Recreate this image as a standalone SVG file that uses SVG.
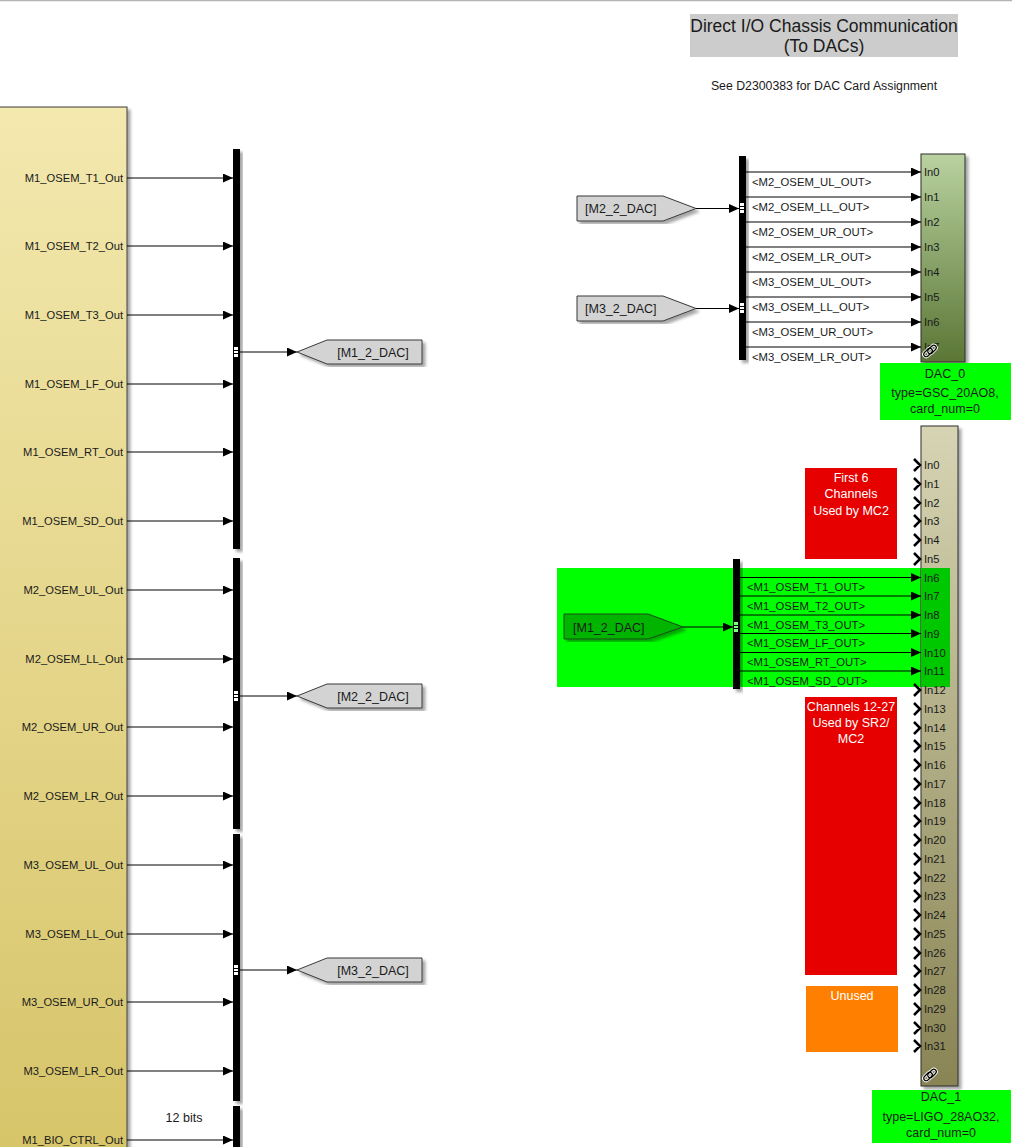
<svg xmlns="http://www.w3.org/2000/svg" width="1012" height="1147" viewBox="0 0 1012 1147">
<style>
text{font-family:"Liberation Sans",Arial,sans-serif;fill:#1a1a1a}
.pl{font-size:11.2px;text-anchor:end}
.il{font-size:11.2px}
.bl{font-size:11.3px}
.tg{font-size:12.5px}
.tag{fill:#d3d3d3;stroke:#3a3a3a;stroke-width:1}
.bar{fill:#000}
.ln{stroke:#000;stroke-width:1;fill:none}
.chev{stroke:#000;stroke-width:2.5;fill:none}
.note{font-size:12.5px;fill:#fff;text-anchor:middle}
.lab{font-size:12.5px;text-anchor:middle}
</style>
<defs>
<marker id="arr" markerWidth="10" markerHeight="9" refX="10" refY="4.5" orient="auto" markerUnits="userSpaceOnUse"><path d="M0,0 L10,4.5 L0,9 z" fill="#000"/></marker>
<linearGradient id="gL" x1="0" y1="107" x2="0" y2="1147" gradientUnits="userSpaceOnUse"><stop offset="0" stop-color="#f3e8ae"/><stop offset="1" stop-color="#d7c56a"/></linearGradient>
<linearGradient id="g0" x1="0" y1="0" x2="0" y2="1"><stop offset="0" stop-color="#b9d2a0"/><stop offset="1" stop-color="#5b7635"/></linearGradient>
<linearGradient id="g1" x1="0" y1="0" x2="0" y2="1"><stop offset="0" stop-color="#d6d4b3"/><stop offset="1" stop-color="#898454"/></linearGradient>
<filter id="sh" x="-20%" y="-5%" width="150%" height="115%"><feDropShadow dx="3" dy="3" stdDeviation="1.5" flood-color="#000" flood-opacity="0.35"/></filter>
<g id="link"><rect x="1" y="6" width="10" height="5" rx="2.5" transform="rotate(-45 6 8.5)" fill="none" stroke="#fff" stroke-width="3"/><rect x="5" y="3" width="10" height="5" rx="2.5" transform="rotate(-45 10 5.5)" fill="none" stroke="#fff" stroke-width="3"/><rect x="1" y="6" width="10" height="5" rx="2.5" transform="rotate(-45 6 8.5)" fill="none" stroke="#000" stroke-width="1.2"/><rect x="5" y="3" width="10" height="5" rx="2.5" transform="rotate(-45 10 5.5)" fill="none" stroke="#000" stroke-width="1.2"/></g>
</defs>
<rect x="0" y="0" width="1012" height="1147" fill="#fff"/>
<line x1="0" y1="0.5" x2="1012" y2="0.5" stroke="#b4b4b4" stroke-width="1.5"/>

<!-- areas / annotations -->
<g id="title">
<rect x="690" y="14" width="268" height="43" fill="#cccccc"/>
<text x="824" y="32" font-size="17.5" text-anchor="middle">Direct I/O Chassis Communication</text>
<text x="824" y="52" font-size="17.5" text-anchor="middle">(To DACs)</text>
<text x="824" y="90" font-size="12.3" text-anchor="middle">See D2300383 for DAC Card Assignment</text>
</g>
<g id="area_m1">
<rect x="557" y="568" width="393" height="119" fill="#00ff00"/>
</g>
<g id="note_first6">
<rect x="805" y="468" width="92" height="91" fill="#e60000"/>
<text class="note" x="851" y="482">First 6</text>
<text class="note" x="851" y="498">Channels</text>
<text class="note" x="851" y="515">Used by MC2</text>
</g>
<g id="note_ch12_27">
<rect x="805" y="697" width="92" height="278" fill="#e60000"/>
<text class="note" x="851" y="711">Channels 12-27</text>
<text class="note" x="851" y="727">Used by SR2/</text>
<text class="note" x="851" y="743">MC2</text>
</g>
<g id="note_unused">
<rect x="806" y="986" width="92" height="66" fill="#ff8000"/>
<text class="note" x="852" y="1000">Unused</text>
</g>

<!-- left subsystem block -->
<g id="sus_block">
<rect x="-10" y="107" width="137" height="1060" fill="url(#gL)" stroke="#3c3c3c" stroke-width="1" filter="url(#sh)"/>
<text class="pl" x="123" y="182">M1_OSEM_T1_Out</text>
<text class="pl" x="123" y="250">M1_OSEM_T2_Out</text>
<text class="pl" x="123" y="319">M1_OSEM_T3_Out</text>
<text class="pl" x="123" y="388">M1_OSEM_LF_Out</text>
<text class="pl" x="123" y="456">M1_OSEM_RT_Out</text>
<text class="pl" x="123" y="525">M1_OSEM_SD_Out</text>
<text class="pl" x="123" y="594">M2_OSEM_UL_Out</text>
<text class="pl" x="123" y="663">M2_OSEM_LL_Out</text>
<text class="pl" x="123" y="731">M2_OSEM_UR_Out</text>
<text class="pl" x="123" y="800">M2_OSEM_LR_Out</text>
<text class="pl" x="123" y="869">M3_OSEM_UL_Out</text>
<text class="pl" x="123" y="938">M3_OSEM_LL_Out</text>
<text class="pl" x="123" y="1006">M3_OSEM_UR_Out</text>
<text class="pl" x="123" y="1075">M3_OSEM_LR_Out</text>
<text class="pl" x="123" y="1144">M1_BIO_CTRL_Out</text>
</g>

<!-- left bus creators -->
<g id="bus_m1" filter="url(#sh)">
<rect class="bar" x="233" y="149" width="7" height="400"/>
</g>
<g id="bus_m2" filter="url(#sh)">
<rect class="bar" x="233" y="558" width="7" height="271"/>
</g>
<g id="bus_m3" filter="url(#sh)">
<rect class="bar" x="233" y="834" width="7" height="267"/>
</g>
<g id="bus_bio" filter="url(#sh)">
<rect class="bar" x="233" y="1106" width="7" height="50"/>
</g>
<g id="busmarks_left" fill="#fff">
<rect x="234" y="347" width="4" height="10"/><rect x="234" y="691" width="4" height="10"/><rect x="234" y="965" width="4" height="10"/>
<path d="M234,350.5h4M234,353.5h4M234,694.5h4M234,697.5h4M234,968.5h4M234,971.5h4" stroke="#000" stroke-width="1"/>
</g>
<text x="184" y="1122" font-size="12.5" text-anchor="middle">12 bits</text>

<!-- goto tags -->
<g id="goto_m1">
<polygon class="tag" points="297,352 327,340 422,340 422,364 327,364" filter="url(#sh)"/>
<text class="tg" x="373" y="356.5" text-anchor="middle">[M1_2_DAC]</text>
</g>
<g id="goto_m2">
<polygon class="tag" points="297,696 327,684 422,684 422,708 327,708" filter="url(#sh)"/>
<text class="tg" x="373" y="700.5" text-anchor="middle">[M2_2_DAC]</text>
</g>
<g id="goto_m3">
<polygon class="tag" points="297,970 327,958 422,958 422,982 327,982" filter="url(#sh)"/>
<text class="tg" x="373" y="974.5" text-anchor="middle">[M3_2_DAC]</text>
</g>

<!-- from tags -->
<g id="from_m2">
<polygon class="tag" points="577,196 663,196 696,208.5 663,221 577,221" filter="url(#sh)"/>
<text class="tg" x="585" y="213">[M2_2_DAC]</text>
</g>
<g id="from_m3">
<polygon class="tag" points="577,296 663,296 696,308.5 663,321 577,321" filter="url(#sh)"/>
<text class="tg" x="585" y="313">[M3_2_DAC]</text>
</g>
<g id="from_m1">
<polygon points="564,614 648,614 683,627 648,639 564,639" fill="#00b400" stroke="#1a4a1a" stroke-width="1" filter="url(#sh)"/>
<text class="tg" x="573" y="631.5">[M1_2_DAC]</text>
</g>

<!-- right bus selectors -->
<g id="sel_dac0" filter="url(#sh)">
<rect class="bar" x="739" y="156" width="7" height="204"/>
</g>
<g id="sel_dac1" filter="url(#sh)">
<rect class="bar" x="733" y="559" width="7" height="130"/>
</g>
<g id="busmarks_right">
<rect x="740" y="203" width="4" height="10" fill="#fff"/><rect x="740" y="303" width="4" height="10" fill="#fff"/>
<rect x="734" y="622" width="4" height="10" fill="#80ff80"/>
<path d="M740,206.5h4M740,209.5h4M740,306.5h4M740,309.5h4M734,625.5h4M734,628.5h4" stroke="#000" stroke-width="1"/>
</g>

<!-- DAC_0 -->
<g id="dac0">
<rect x="921" y="154" width="44" height="208" fill="url(#g0)" stroke="#2e2e2e" stroke-width="1" filter="url(#sh)"/>
<text class="il" x="924" y="176">In0</text>
<text class="il" x="924" y="201">In1</text>
<text class="il" x="924" y="226">In2</text>
<text class="il" x="924" y="251">In3</text>
<text class="il" x="924" y="276">In4</text>
<text class="il" x="924" y="301">In5</text>
<text class="il" x="924" y="326">In6</text>
<text class="il" x="924" y="351">In7</text>
<use href="#link" x="922" y="344"/>
<rect x="880" y="363" width="131" height="57" fill="#00ff00"/>
<text class="lab" x="945" y="378">DAC_0</text>
<text class="lab" x="945" y="397" fill="#244d24">type=GSC_20AO8,</text>
<text class="lab" x="945" y="413" fill="#244d24">card_num=0</text>
</g>

<!-- DAC_1 -->
<g id="dac1">
<rect x="921" y="426" width="37" height="660" fill="url(#g1)" stroke="#2e2e2e" stroke-width="1" filter="url(#sh)"/>
<rect x="921.5" y="568" width="28.5" height="119" fill="#00c800"/>
<text class="il" x="924" y="469">In0</text>
<text class="il" x="924" y="488">In1</text>
<text class="il" x="924" y="507">In2</text>
<text class="il" x="924" y="525">In3</text>
<text class="il" x="924" y="544">In4</text>
<text class="il" x="924" y="563">In5</text>
<text class="il" x="924" y="582">In6</text>
<text class="il" x="924" y="600">In7</text>
<text class="il" x="924" y="619">In8</text>
<text class="il" x="924" y="638">In9</text>
<text class="il" x="924" y="657">In10</text>
<text class="il" x="924" y="675">In11</text>
<text class="il" x="924" y="694">In12</text>
<text class="il" x="924" y="713">In13</text>
<text class="il" x="924" y="732">In14</text>
<text class="il" x="924" y="750">In15</text>
<text class="il" x="924" y="769">In16</text>
<text class="il" x="924" y="788">In17</text>
<text class="il" x="924" y="807">In18</text>
<text class="il" x="924" y="825">In19</text>
<text class="il" x="924" y="844">In20</text>
<text class="il" x="924" y="863">In21</text>
<text class="il" x="924" y="882">In22</text>
<text class="il" x="924" y="900">In23</text>
<text class="il" x="924" y="919">In24</text>
<text class="il" x="924" y="938">In25</text>
<text class="il" x="924" y="957">In26</text>
<text class="il" x="924" y="975">In27</text>
<text class="il" x="924" y="994">In28</text>
<text class="il" x="924" y="1013">In29</text>
<text class="il" x="924" y="1032">In30</text>
<text class="il" x="924" y="1050">In31</text>
<path class="chev" d="M914,459l6,6l-6,6M914,478l6,6l-6,6M914,497l6,6l-6,6M914,515l6,6l-6,6M914,534l6,6l-6,6M914,553l6,6l-6,6M914,684l6,6l-6,6M914,703l6,6l-6,6M914,722l6,6l-6,6M914,740l6,6l-6,6M914,759l6,6l-6,6M914,778l6,6l-6,6M914,797l6,6l-6,6M914,815l6,6l-6,6M914,834l6,6l-6,6M914,853l6,6l-6,6M914,872l6,6l-6,6M914,890l6,6l-6,6M914,909l6,6l-6,6M914,928l6,6l-6,6M914,947l6,6l-6,6M914,965l6,6l-6,6M914,984l6,6l-6,6M914,1003l6,6l-6,6M914,1022l6,6l-6,6M914,1040l6,6l-6,6"/>
<use href="#link" x="922" y="1068"/>
<rect x="872" y="1090" width="139" height="53" fill="#00ff00"/>
<text class="lab" x="941" y="1101">DAC_1</text>
<text class="lab" x="941" y="1121" fill="#244d24">type=LIGO_28AO32,</text>
<text class="lab" x="941" y="1137" fill="#244d24">card_num=0</text>
</g>

<!-- connectors -->
<g id="connectors" class="ln" marker-end="url(#arr)">
<line x1="127" y1="178" x2="233" y2="178"/>
<line x1="127" y1="246" x2="233" y2="246"/>
<line x1="127" y1="315" x2="233" y2="315"/>
<line x1="127" y1="384" x2="233" y2="384"/>
<line x1="127" y1="452" x2="233" y2="452"/>
<line x1="127" y1="521" x2="233" y2="521"/>
<line x1="127" y1="590" x2="233" y2="590"/>
<line x1="127" y1="659" x2="233" y2="659"/>
<line x1="127" y1="727" x2="233" y2="727"/>
<line x1="127" y1="796" x2="233" y2="796"/>
<line x1="127" y1="865" x2="233" y2="865"/>
<line x1="127" y1="934" x2="233" y2="934"/>
<line x1="127" y1="1002" x2="233" y2="1002"/>
<line x1="127" y1="1071" x2="233" y2="1071"/>
<line x1="127" y1="1140" x2="233" y2="1140"/>
<line x1="240" y1="352" x2="297" y2="352"/>
<line x1="240" y1="696" x2="297" y2="696"/>
<line x1="240" y1="970" x2="297" y2="970"/>
<line x1="696" y1="208.5" x2="739" y2="208.5"/>
<line x1="696" y1="308.5" x2="739" y2="308.5"/>
<line x1="683" y1="627" x2="733" y2="627"/>
<line x1="746" y1="172" x2="921" y2="172"/>
<line x1="746" y1="197" x2="921" y2="197"/>
<line x1="746" y1="222" x2="921" y2="222"/>
<line x1="746" y1="247" x2="921" y2="247"/>
<line x1="746" y1="272" x2="921" y2="272"/>
<line x1="746" y1="297" x2="921" y2="297"/>
<line x1="746" y1="322" x2="921" y2="322"/>
<line x1="746" y1="347" x2="921" y2="347"/>
<line x1="740" y1="577.5" x2="921" y2="577.5"/>
<line x1="740" y1="596" x2="921" y2="596"/>
<line x1="740" y1="615" x2="921" y2="615"/>
<line x1="740" y1="633.5" x2="921" y2="633.5"/>
<line x1="740" y1="652.5" x2="921" y2="652.5"/>
<line x1="740" y1="671" x2="921" y2="671"/>
</g>
<g id="signal_labels">
<text class="bl" x="752" y="185.5">&lt;M2_OSEM_UL_OUT&gt;</text>
<text class="bl" x="752" y="210.5">&lt;M2_OSEM_LL_OUT&gt;</text>
<text class="bl" x="752" y="235.5">&lt;M2_OSEM_UR_OUT&gt;</text>
<text class="bl" x="752" y="260.5">&lt;M2_OSEM_LR_OUT&gt;</text>
<text class="bl" x="752" y="285.5">&lt;M3_OSEM_UL_OUT&gt;</text>
<text class="bl" x="752" y="310.5">&lt;M3_OSEM_LL_OUT&gt;</text>
<text class="bl" x="752" y="335.5">&lt;M3_OSEM_UR_OUT&gt;</text>
<text class="bl" x="752" y="360.5">&lt;M3_OSEM_LR_OUT&gt;</text>
<text class="bl" x="747" y="591">&lt;M1_OSEM_T1_OUT&gt;</text>
<text class="bl" x="747" y="610">&lt;M1_OSEM_T2_OUT&gt;</text>
<text class="bl" x="747" y="629">&lt;M1_OSEM_T3_OUT&gt;</text>
<text class="bl" x="747" y="647">&lt;M1_OSEM_LF_OUT&gt;</text>
<text class="bl" x="747" y="666">&lt;M1_OSEM_RT_OUT&gt;</text>
<text class="bl" x="747" y="685">&lt;M1_OSEM_SD_OUT&gt;</text>
</g>
</svg>
